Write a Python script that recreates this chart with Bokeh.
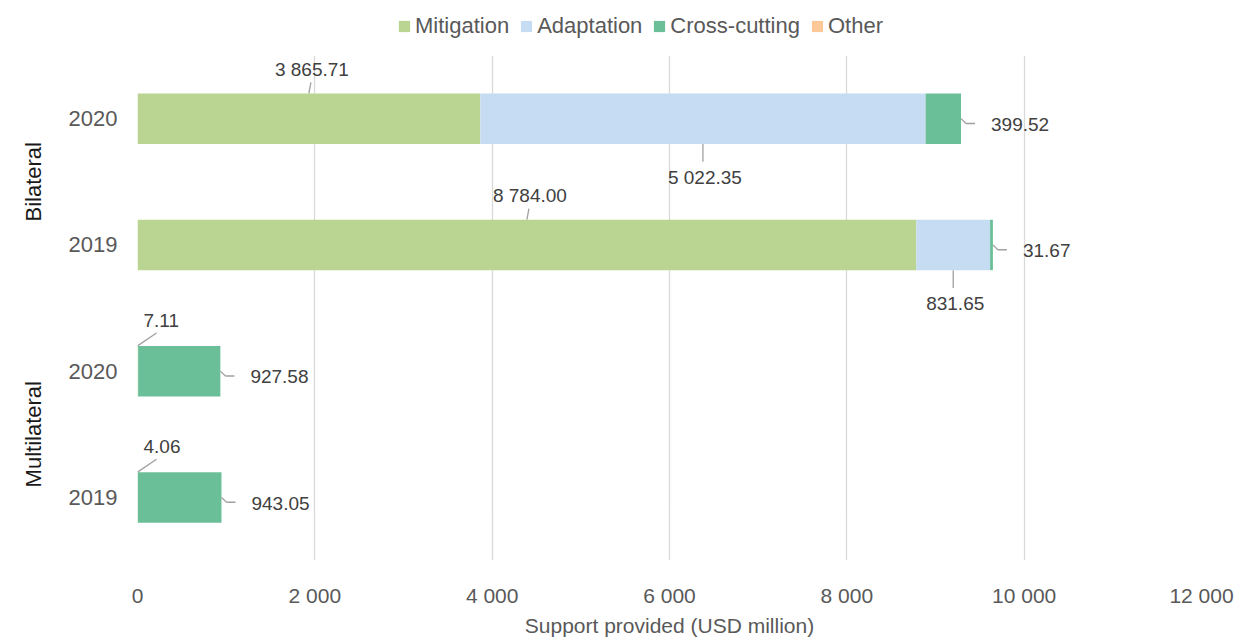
from bokeh.plotting import figure
from bokeh.layouts import column
from bokeh.models import FactorRange, Range1d, ColumnDataSource, Legend, LegendItem, FixedTicker
from bokeh.core.properties import value
from bokeh.embed import file_html
from bokeh.resources import INLINE

# ---- data ----
groups = ["Bilateral", "Bilateral", "Multilateral", "Multilateral"]
years = ["2020", "2019", "2020", "2019"]
mitigation = [3865.71, 8784.00, 7.11, 4.06]
adaptation = [5022.35, 831.65, 0.0, 0.0]
cross_cutting = [399.52, 31.67, 927.58, 943.05]
other = [0.0, 0.0, 0.0, 0.0]
series_names = ["Mitigation", "Adaptation", "Cross-cutting", "Other"]
x_ticks = [0, 2000, 4000, 6000, 8000, 10000, 12000]
x_tick_labels = ["0", "2 000", "4 000", "6 000", "8 000", "10 000", "12 000"]
x_title = "Support provided (USD million)"

# ---- styles ----
colors = ["#B9D591", "#C5DCF2", "#6BBF98", "#FCC898"]
FONT = "Liberation Sans"
W, H = 1244, 639
LEG_H = 55
BL, BR, BT, BB = 137, 43, 0, 68
H_MAIN = H - LEG_H
FRAME_W, FRAME_H = W - BL - BR, H_MAIN - BT - BB
X_MAX = 12000
PX_X = X_MAX / FRAME_W          # data units per pixel (x)
PX_Y = 1.0 / (FRAME_H / 4)      # factor units per pixel (y)
BAR_H = 0.4
HALF_PX = BAR_H / PX_Y / 2

factors = list(zip(groups, years))
factors_bt = factors[::-1]

def fmt(v):
    return f"{v:,.2f}".replace(",", " ")

src = ColumnDataSource(dict(
    cat=factors,
    Mitigation=mitigation,
    Adaptation=adaptation,
    **{"Cross-cutting": cross_cutting},
    Other=other,
))

p = figure(
    y_range=FactorRange(*factors_bt, group_padding=0, factor_padding=0, range_padding=0),
    x_range=Range1d(0, X_MAX),
    width=W, height=H_MAIN,
    min_border_left=BL, min_border_right=BR, min_border_top=BT, min_border_bottom=BB,
    output_backend="svg", toolbar_location=None,
)
p.outline_line_color = None
p.background_fill_color = "white"

renderers = p.hbar_stack(series_names, y="cat", height=BAR_H, color=colors,
                         line_color=None, source=src)

# ---- axes ----
xa = p.xaxis[0]
xa.ticker = FixedTicker(ticks=x_ticks)
xa.major_label_overrides = {t: l for t, l in zip(x_ticks, x_tick_labels)}
xa.axis_line_color = None
xa.major_tick_line_color = None
xa.minor_tick_line_color = None
xa.major_label_text_font = FONT
xa.major_label_text_font_size = "21px"
xa.major_label_text_color = "#595959"
xa.major_label_standoff = 17
xa.axis_label = x_title
xa.axis_label_text_font = FONT
xa.axis_label_text_font_size = "21px"
xa.axis_label_text_font_style = "normal"
xa.axis_label_text_color = "#595959"
xa.axis_label_standoff = 4

ya = p.yaxis[0]
ya.axis_line_color = None
ya.major_tick_line_color = None
ya.minor_tick_line_color = None
ya.major_tick_out = 0
ya.major_label_text_font = FONT
ya.major_label_text_font_size = "22px"
ya.major_label_text_color = "#595959"
ya.major_label_standoff = 20
ya.group_text_font = FONT
ya.group_text_font_size = "22px"
ya.group_text_font_style = "normal"
ya.group_text_color = "#1A1A1A"
ya.separator_line_color = None

p.ygrid.grid_line_color = None
p.xgrid.ticker = FixedTicker(ticks=x_ticks)
p.xgrid.grid_line_color = "#D9D9D9"
p.xgrid.grid_line_width = 1.3

# ---- data labels with leader lines ----
lab = {"center": dict(x=[], y=[], t=[]), "left": dict(x=[], y=[], t=[])}
seg = dict(x0=[], y0=[], x1=[], y1=[])

def add_seg(xa_, ya_, xb, yb):
    seg["x0"].append(xa_); seg["y0"].append(ya_)
    seg["x1"].append(xb); seg["y1"].append(yb)

for i, f in enumerate(factors):
    g, yr = f
    m, a, c = mitigation[i], adaptation[i], cross_cutting[i]
    # Mitigation: above
    if m > 0:
        if m / PX_X >= 40:
            cx = m / 2
            lab["center"]["x"].append(cx + 3 * PX_X)
            lab["center"]["y"].append((g, yr, 50 * PX_Y))
            lab["center"]["t"].append(fmt(m))
            add_seg(cx, (g, yr, HALF_PX * PX_Y), cx + 2 * PX_X, (g, yr, 37 * PX_Y))
        else:
            lab["left"]["x"].append(6 * PX_X)
            lab["left"]["y"].append((g, yr, 52 * PX_Y))
            lab["left"]["t"].append(fmt(m))
            add_seg(0, (g, yr, HALF_PX * PX_Y), 19 * PX_X, (g, yr, 39 * PX_Y))
    # Adaptation: below
    if a > 0:
        cx = m + a / 2
        lab["center"]["x"].append(cx + 2 * PX_X)
        lab["center"]["y"].append((g, yr, -60 * PX_Y))
        lab["center"]["t"].append(fmt(a))
        add_seg(cx, (g, yr, -HALF_PX * PX_Y), cx, (g, yr, -44 * PX_Y))
    # Cross-cutting: right
    if c > 0:
        end = m + a + c
        lab["left"]["x"].append(end + 30 * PX_X)
        lab["left"]["y"].append((g, yr, -6 * PX_Y))
        lab["left"]["t"].append(fmt(c))
        add_seg(end, (g, yr, 0), end + 5 * PX_X, (g, yr, -5 * PX_Y))
        add_seg(end + 5 * PX_X, (g, yr, -5 * PX_Y), end + 14 * PX_X, (g, yr, -5 * PX_Y))

p.segment(x0="x0", y0="y0", x1="x1", y1="y1", source=ColumnDataSource(seg),
          line_color="#A0A0A0", line_width=1.3)

for align, d in lab.items():
    p.text(x="x", y="y", text="t", source=ColumnDataSource(d),
           text_font=value(FONT), text_font_size=value("19px"),
           text_color="#404040", text_align=align, text_baseline="middle")

# ---- legend strip above the chart ----
lf = figure(width=W, height=LEG_H, x_range=Range1d(0, 1), y_range=Range1d(0, 1),
            x_axis_location=None, y_axis_location=None,
            min_border_left=0, min_border_right=0, min_border_top=0, min_border_bottom=0,
            output_backend="svg", toolbar_location=None)
lf.outline_line_color = None
lf.xgrid.visible = False
lf.ygrid.visible = False
# zero-width swatch source: only used so the legend can draw its colour boxes
swatch = ColumnDataSource(dict(cat=[0.5], **{n: [0.0] for n in series_names}))
leg_renderers = lf.hbar_stack(series_names, y="cat", height=0.5, color=colors,
                              line_color=None, source=swatch)
legend = Legend(
    items=[LegendItem(label=n, renderers=[r]) for n, r in zip(series_names, leg_renderers)],
    orientation="horizontal", location=(260, 16),
    label_text_font=FONT, label_text_font_size="22px", label_text_color="#595959",
    glyph_width=14, glyph_height=14, spacing=10, label_standoff=4,
    border_line_color=None, background_fill_alpha=0, padding=0, margin=0,
)
lf.add_layout(legend, "center")

layout = column(lf, p, spacing=0)
open("out.html", "w").write(file_html(layout, INLINE))
